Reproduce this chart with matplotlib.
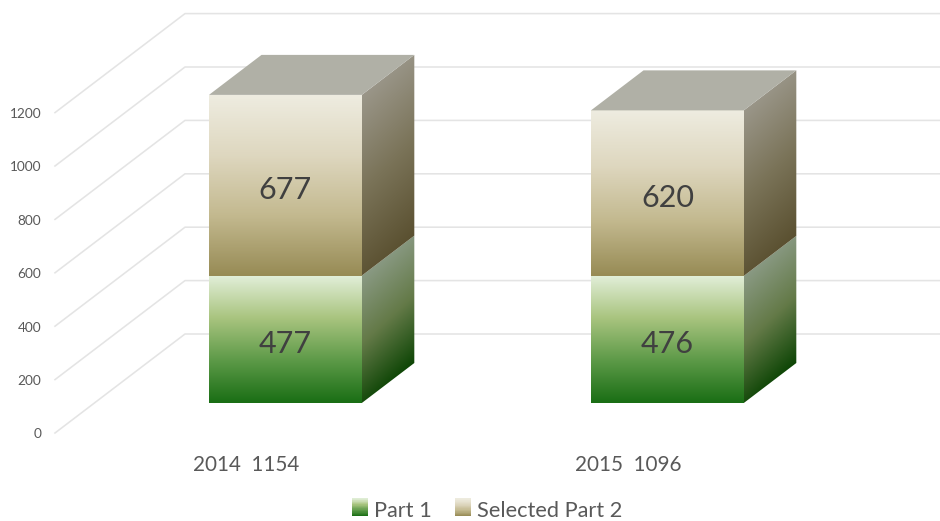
import numpy as np
import matplotlib
matplotlib.use("Agg")
import matplotlib.pyplot as plt
from matplotlib.colors import LinearSegmentedColormap
from matplotlib.legend_handler import HandlerBase
from matplotlib.patches import Patch, Polygon, Rectangle

years = ["2014", "2015"]
totals = [1154, 1096]
part1 = [477, 476]
part2 = [677, 620]
yticks = [0, 200, 400, 600, 800, 1000, 1200]

# size of one chart unit on the figure
PX_PER_CAT = 382
PX_PER_VAL = 53.4 / 200
# oblique projection: how far the back wall sits from the front edge
DEPTH_X = 130 / PX_PER_CAT
DEPTH_Y = 99 / PX_PER_VAL
BAR_D0, BAR_D1 = 0.303, 0.707
HALF_W = 0.2

green_front = LinearSegmentedColormap.from_list("gf", ["#1a6e15", "#5d9a48", "#a9c47f", "#e2efd9"])
green_side = LinearSegmentedColormap.from_list("gs", ["#8a9a84", "#647a48", "#0d4505"])
tan_front = LinearSegmentedColormap.from_list("tf", ["#978b55", "#c3b98f", "#ded7bf", "#eeece0"])
tan_side = LinearSegmentedColormap.from_list("ts", ["#9a9689", "#7a7358", "#5a5030"])
TOP_COLOR = "#b0b0a6"


def proj(cat, val, depth):
    return cat + depth * DEPTH_X, val + depth * DEPTH_Y


def gradient_face(ax, pts, cmap, skew, zorder):
    xs, ys = zip(*pts)
    u, v = np.meshgrid(np.linspace(0, 1, 200), np.linspace(0, 1, 200))
    if skew:
        # follow the slant of the side face, darker towards the back
        span = max(ys) - min(ys)
        rise = (max(pts[1][1], pts[0][1]) - min(pts[1][1], pts[0][1])) / span
        t = 0.94 * (1 - (v - u * rise) / (1 - rise)) + 0.06 * u
    else:
        t = v
    im = ax.imshow(np.clip(t, 0, 1), cmap=cmap, vmin=0, vmax=1, origin="lower", aspect="auto",
                   extent=(min(xs), max(xs), min(ys), max(ys)), zorder=zorder,
                   interpolation="bilinear")
    im.set_clip_path(Polygon(pts, closed=True, transform=ax.transData))


def draw_segment(ax, cat, v0, v1, front_map, side_map, zorder):
    x0, x1 = cat - HALF_W, cat + HALF_W
    front = [proj(x0, v0, BAR_D0), proj(x1, v0, BAR_D0), proj(x1, v1, BAR_D0), proj(x0, v1, BAR_D0)]
    side = [proj(x1, v0, BAR_D0), proj(x1, v0, BAR_D1), proj(x1, v1, BAR_D1), proj(x1, v1, BAR_D0)]
    gradient_face(ax, side, side_map, True, zorder)
    gradient_face(ax, front, front_map, False, zorder + 0.1)


class GradientHandler(HandlerBase):
    def create_artists(self, legend, orig, xdescent, ydescent, width, height, fontsize, trans):
        n = 30
        out = []
        for i in range(n):
            r = Rectangle((xdescent, ydescent + height * i / n), width, height / n + 0.2,
                          facecolor=orig.cmap_ref((i + 0.5) / n), edgecolor="none", transform=trans)
            out.append(r)
        return out


fig = plt.figure(figsize=(9.4, 5.21), dpi=100)
ax = fig.add_axes([0, 0, 1, 1])

# gridlines: front edge, back wall
for v in yticks:
    fx, fy = proj(-246 / PX_PER_CAT + 55 / PX_PER_CAT, v, 0)
    bx, by = proj(-246 / PX_PER_CAT + 55 / PX_PER_CAT, v, 1)
    ax.plot([fx, bx, 3], [fy, by, by], color="#e4e4e4", lw=1.15, zorder=1)
    ax.annotate(str(v), (fx, fy), xytext=(-10, -1), textcoords="offset points",
                ha="right", va="center", fontsize=9.8, color="#595959", family="Lato")

for i in range(len(years)):
    draw_segment(ax, i, 0, part1[i], green_front, green_side, 2 + i)
    draw_segment(ax, i, part1[i], part1[i] + part2[i], tan_front, tan_side, 2.3 + i)
    top = part1[i] + part2[i]
    x0, x1 = i - HALF_W, i + HALF_W
    ax.add_patch(Polygon([proj(x0, top, BAR_D0), proj(x1, top, BAR_D0),
                          proj(x1, top, BAR_D1), proj(x0, top, BAR_D1)],
                         closed=True, facecolor=TOP_COLOR, edgecolor="none", zorder=2.6 + i))
    ax.annotate(str(part1[i]), proj(i, part1[i] / 2, BAR_D0), xytext=(0, -3.2), textcoords="offset points",
                ha="center", va="center", fontsize=22, color="#404040", family="Lato", zorder=5)
    ax.annotate(str(part2[i]), proj(i, part1[i] + part2[i] / 2, BAR_D0), xytext=(0, -3.2), textcoords="offset points",
                ha="center", va="center", fontsize=22, color="#404040", family="Lato", zorder=5)
    ax.annotate(f"{years[i]}  {totals[i]}", (i, 0), xytext=(0, -23.2), textcoords="offset points",
                ha="center", va="center", fontsize=14.9, color="#595959", family="Lato")

ax.set_xlim(-246 / PX_PER_CAT, (940 - 246) / PX_PER_CAT)
ax.set_ylim(-88 / PX_PER_VAL, 433 / PX_PER_VAL)
ax.axis("off")

h1 = Patch(label="Part 1")
h1.cmap_ref = green_front
h2 = Patch(label="Selected Part 2")
h2.cmap_ref = tan_front
fig.legend(handles=[h1, h2], handler_map={Patch: GradientHandler()}, loc="lower center",
           bbox_to_anchor=(0.5185, -0.038), ncols=2, frameon=False, handlelength=0.72, handleheight=0.85,
           handletextpad=0.3, columnspacing=1.05,
           prop={"family": "Lato", "size": 15.7}, labelcolor="#595959")

fig.savefig("out.png", dpi=100)
